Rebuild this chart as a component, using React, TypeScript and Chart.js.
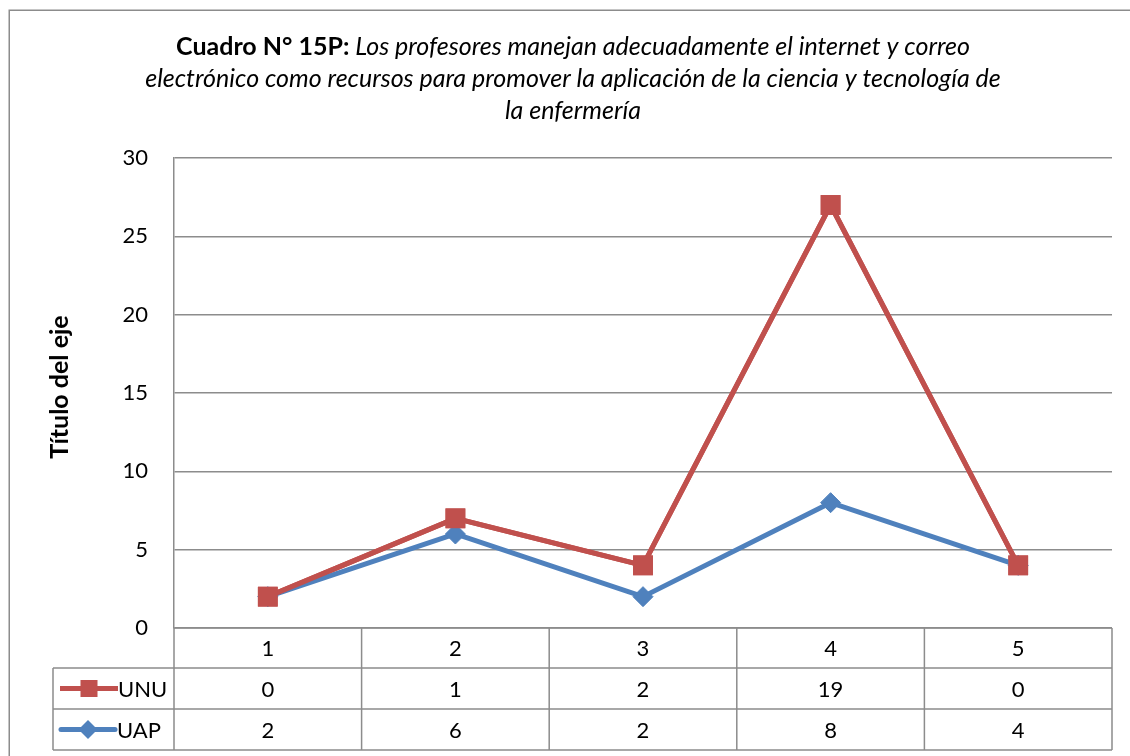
import React, { useEffect, useRef } from "react";
import { Chart, registerables } from "chart.js";

Chart.register(...registerables);

const categories = ["1", "2", "3", "4", "5"];
const unuValues = [0, 1, 2, 19, 0];
const uapValues = [2, 6, 2, 8, 4];
const seriesNames = ["UNU", "UAP"];
const yMin = 0;
const yMax = 30;
const yStep = 5;
const titleBold = "Cuadro N° 15P:";
const titleLines = [
  " Los profesores manejan adecuadamente el internet y correo",
  "electrónico como recursos para promover la aplicación de la ciencia y tecnología de",
  "la enfermería",
];
const yAxisTitle = "Título del eje";

const RED = "#C0504D";
const BLUE = "#4F81BD";
const GRID = "#8c8c8c";
const FONT = "Lato, 'Open Sans', sans-serif";
const TITLE_SIZE = 25;
const TEXT_SIZE = 22;

function drawMarker(ctx: CanvasRenderingContext2D, kind: string, x: number, y: number) {
  ctx.save();
  if (kind === "rect") {
    ctx.fillStyle = RED;
    ctx.strokeStyle = RED;
    ctx.lineWidth = 5;
    ctx.beginPath();
    ctx.moveTo(x - 29, y);
    ctx.lineTo(x + 29, y);
    ctx.stroke();
    ctx.fillRect(x - 8.5, y - 8.5, 17, 17);
  } else {
    ctx.fillStyle = BLUE;
    ctx.strokeStyle = BLUE;
    ctx.lineWidth = 5;
    ctx.lineCap = "round";
    ctx.beginPath();
    ctx.moveTo(x - 27, y);
    ctx.lineTo(x + 27, y);
    ctx.stroke();
    ctx.beginPath();
    ctx.moveTo(x - 9.5, y);
    ctx.lineTo(x, y - 9.5);
    ctx.lineTo(x + 9.5, y);
    ctx.lineTo(x, y + 9.5);
    ctx.closePath();
    ctx.fill();
  }
  ctx.restore();
}

const decorPlugin = {
  id: "excelDecor",
  beforeDraw(chart: any) {
    const ctx: CanvasRenderingContext2D = chart.ctx;
    const area = chart.chartArea;
    ctx.save();
    ctx.fillStyle = "#ffffff";
    ctx.fillRect(0, 0, chart.width, chart.height);
    // outer border
    ctx.strokeStyle = GRID;
    ctx.lineWidth = 1.5;
    ctx.strokeRect(9.25, 10.25, 1400, 1000);

    // title
    const cx = 573;
    ctx.fillStyle = "#000";
    ctx.textBaseline = "middle";
    const boldFont = `bold ${TITLE_SIZE}px ${FONT}`;
    const itFont = `italic ${TITLE_SIZE}px ${FONT}`;
    ctx.font = boldFont;
    const wb = ctx.measureText(titleBold).width;
    ctx.font = itFont;
    const wi = ctx.measureText(titleLines[0]).width;
    const x0 = cx - (wb + wi) / 2;
    ctx.textAlign = "left";
    ctx.font = boldFont;
    ctx.fillText(titleBold, x0, 47);
    ctx.font = itFont;
    ctx.fillText(titleLines[0], x0 + wb, 47);
    ctx.textAlign = "center";
    ctx.fillText(titleLines[1], cx, 79);
    ctx.fillText(titleLines[2], cx, 111);

    // y axis title
    ctx.save();
    ctx.translate(60, (area.top + area.bottom) / 2 - 6);
    ctx.rotate(-Math.PI / 2);
    ctx.font = `bold ${TITLE_SIZE}px ${FONT}`;
    ctx.textAlign = "center";
    ctx.textBaseline = "middle";
    ctx.fillText(yAxisTitle, 0, 0);
    ctx.restore();
    ctx.restore();
  },
  afterDatasetsDraw(chart: any) {
    // UNU drawn on top of UAP
    const meta = chart.getDatasetMeta(1);
    meta.controller.draw();
  },
  afterDraw(chart: any) {
    const ctx: CanvasRenderingContext2D = chart.ctx;
    const area = chart.chartArea;
    const xs = chart.scales.x;
    const n = categories.length;
    const cw = (area.right - area.left) / n;
    const legLeft = 53;
    const rowTop = area.bottom;
    const rowH = [40, 41, 41];
    const y1 = rowTop + rowH[0];
    const y2 = y1 + rowH[1];
    const y3 = y2 + rowH[2];
    ctx.save();
    ctx.strokeStyle = GRID;
    ctx.lineWidth = 1.5;
    ctx.beginPath();
    ctx.moveTo(area.left, rowTop);
    ctx.lineTo(area.right, rowTop);
    ctx.moveTo(legLeft, y1);
    ctx.lineTo(area.right, y1);
    ctx.moveTo(legLeft, y2);
    ctx.lineTo(area.right, y2);
    ctx.moveTo(legLeft, y3);
    ctx.lineTo(area.right, y3);
    for (let i = 0; i <= n; i++) {
      const x = area.left + i * cw;
      ctx.moveTo(x, rowTop);
      ctx.lineTo(x, y3);
    }
    ctx.moveTo(legLeft, y1);
    ctx.lineTo(legLeft, y3);
    ctx.stroke();

    ctx.fillStyle = "#000";
    ctx.font = `${TEXT_SIZE}px ${FONT}`;
    ctx.textAlign = "center";
    ctx.textBaseline = "middle";
    const rows = [unuValues, uapValues];
    for (let i = 0; i < n; i++) {
      const x = xs.getPixelForValue(i);
      ctx.fillText(categories[i], x, (rowTop + y1) / 2 + 1);
      ctx.fillText(String(rows[0][i]), x, (y1 + y2) / 2 + 1);
      ctx.fillText(String(rows[1][i]), x, (y2 + y3) / 2 + 1);
    }
    drawMarker(ctx, "rect", 89, (y1 + y2) / 2);
    drawMarker(ctx, "rectRot", 88, (y2 + y3) / 2);
    ctx.fillStyle = "#000";
    ctx.textAlign = "left";
    ctx.fillText(seriesNames[0], 118, (y1 + y2) / 2 + 1);
    ctx.fillText(seriesNames[1], 117, (y2 + y3) / 2 + 1);
    ctx.restore();
  },
};

export default function App() {
  const ref = useRef<HTMLCanvasElement | null>(null);
  useEffect(() => {
    if (!ref.current) return;
    const chart = new Chart(ref.current, {
      type: "line",
      data: {
        labels: categories,
        datasets: [
          {
            label: seriesNames[1],
            data: uapValues,
            borderColor: BLUE,
            backgroundColor: BLUE,
            borderWidth: 5,
            pointStyle: "rectRot",
            pointRadius: 10,
            pointBorderWidth: 1,
            pointBorderColor: BLUE,
            pointBackgroundColor: BLUE,
            tension: 0,
            fill: false,
          },
          {
            label: seriesNames[0],
            data: unuValues,
            borderColor: RED,
            backgroundColor: RED,
            borderWidth: 5,
            pointStyle: "rect",
            pointRadius: 14,
            pointBorderWidth: 0,
            pointBorderColor: RED,
            pointBackgroundColor: RED,
            tension: 0,
            fill: false,
          },
        ],
      },
      options: {
        animation: false,
        responsive: false,
        devicePixelRatio: 1,
        layout: { padding: { left: 0, top: 158, right: 18, bottom: 128 } },
        plugins: {
          legend: { display: false },
          title: { display: false },
          tooltip: { enabled: false },
        },
        scales: {
          x: {
            type: "category",
            offset: true,
            display: false,
          },
          y: {
            stacked: true,
            min: yMin,
            max: yMax,
            ticks: {
              stepSize: yStep,
              color: "#000",
              font: { family: FONT, size: TEXT_SIZE },
              padding: 26,
            },
            grid: {
              color: GRID,
              lineWidth: 1.5,
              drawTicks: false,
            },
            border: { display: true, color: GRID, width: 1.5 },
            afterFit(scale: any) {
              scale.width = 174;
            },
          },
        },
      },
      plugins: [decorPlugin],
    });
    return () => chart.destroy();
  }, []);
  return (
    <div style={{ position: "absolute", left: 0, top: 0, width: 1130, height: 756 }}>
      <canvas ref={ref} width={1130} height={756} style={{ width: 1130, height: 756 }} />
    </div>
  );
}
